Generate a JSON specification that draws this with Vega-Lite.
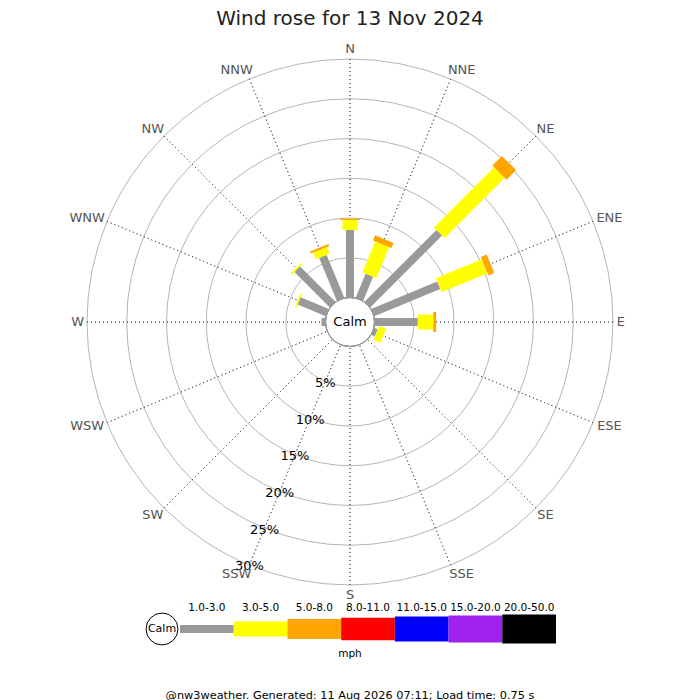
{
  "$schema": "https://vega.github.io/schema/vega-lite/v6.json",
  "padding": {"top": 9, "left": 0, "right": 0, "bottom": 0},
  "background": "white",
  "title": {"text": "Wind rose for 13 Nov 2024", "fontSize": 20, "fontWeight": "normal", "font": "DejaVu Sans", "color": "#222222", "anchor": "middle", "offset": 6},
  "bounds": "flush",
  "spacing": 0,
  "config": {"view": {"stroke": null, "fill": "white"}, "font": "DejaVu Sans"},
  "datasets": {
    "directions": [
      {"dir": "N", "angle": 0}, {"dir": "NNE", "angle": 22.5}, {"dir": "NE", "angle": 45}, {"dir": "ENE", "angle": 67.5},
      {"dir": "E", "angle": 90}, {"dir": "ESE", "angle": 112.5}, {"dir": "SE", "angle": 135}, {"dir": "SSE", "angle": 157.5},
      {"dir": "S", "angle": 180}, {"dir": "SSW", "angle": 202.5}, {"dir": "SW", "angle": 225}, {"dir": "WSW", "angle": 247.5},
      {"dir": "W", "angle": 270}, {"dir": "WNW", "angle": 292.5}, {"dir": "NW", "angle": 315}, {"dir": "NNW", "angle": 337.5}
    ],
    "rings": [
      {"pct": 5, "label": "5%"}, {"pct": 10, "label": "10%"}, {"pct": 15, "label": "15%"},
      {"pct": 20, "label": "20%"}, {"pct": 25, "label": "25%"}, {"pct": 30, "label": "30%"}
    ],
    "bars": [
      {"dir": "N", "angle": 0, "band": "1.0-3.0", "pct": 8.5},
      {"dir": "N", "angle": 0, "band": "3.0-5.0", "pct": 1.25},
      {"dir": "N", "angle": 0, "band": "5.0-8.0", "pct": 0.17},
      {"dir": "NNE", "angle": 22.5, "band": "1.0-3.0", "pct": 3.3},
      {"dir": "NNE", "angle": 22.5, "band": "3.0-5.0", "pct": 4.2},
      {"dir": "NNE", "angle": 22.5, "band": "5.0-8.0", "pct": 0.7},
      {"dir": "NE", "angle": 45, "band": "1.0-3.0", "pct": 12.8},
      {"dir": "NE", "angle": 45, "band": "3.0-5.0", "pct": 10.7},
      {"dir": "NE", "angle": 45, "band": "5.0-8.0", "pct": 1.7},
      {"dir": "ENE", "angle": 67.5, "band": "1.0-3.0", "pct": 9.0},
      {"dir": "ENE", "angle": 67.5, "band": "3.0-5.0", "pct": 6.25},
      {"dir": "ENE", "angle": 67.5, "band": "5.0-8.0", "pct": 0.8},
      {"dir": "E", "angle": 90, "band": "1.0-3.0", "pct": 5.45},
      {"dir": "E", "angle": 90, "band": "3.0-5.0", "pct": 1.95},
      {"dir": "E", "angle": 90, "band": "5.0-8.0", "pct": 0.35},
      {"dir": "ESE", "angle": 112.5, "band": "1.0-3.0", "pct": 0.5},
      {"dir": "ESE", "angle": 112.5, "band": "3.0-5.0", "pct": 0.95},
      {"dir": "W", "angle": 270, "band": "1.0-3.0", "pct": 0.5},
      {"dir": "WNW", "angle": 292.5, "band": "1.0-3.0", "pct": 3.85},
      {"dir": "WNW", "angle": 292.5, "band": "3.0-5.0", "pct": 0.2},
      {"dir": "NW", "angle": 315, "band": "1.0-3.0", "pct": 6.3},
      {"dir": "NW", "angle": 315, "band": "3.0-5.0", "pct": 0.22},
      {"dir": "NNW", "angle": 337.5, "band": "1.0-3.0", "pct": 5.85},
      {"dir": "NNW", "angle": 337.5, "band": "3.0-5.0", "pct": 0.9},
      {"dir": "NNW", "angle": 337.5, "band": "5.0-8.0", "pct": 0.28}
    ],
    "legend": [
      {"band": "1.0-3.0"}, {"band": "3.0-5.0"}, {"band": "5.0-8.0"}, {"band": "8.0-11.0"},
      {"band": "11.0-15.0"}, {"band": "15.0-20.0"}, {"band": "20.0-50.0"}
    ]
  },
  "vconcat": [
    {
      "width": 700,
      "height": 574,
      "layer": [
        {
          "data": {"name": "rings"},
          "mark": {"type": "arc", "theta": 0, "theta2": 6.2832, "filled": false, "stroke": "#b4b4b4", "strokeWidth": 1},
          "encoding": {
            "radius": {"field": "pct", "type": "quantitative", "stack": null, "scale": {"type": "linear", "domain": [0, 30], "range": [24.5, 263], "zero": false}}
          }
        },
        {
          "data": {"name": "directions"},
          "mark": {"type": "arc", "filled": false, "stroke": "#555555", "strokeWidth": 1, "strokeDash": [1, 3]},
          "encoding": {
            "theta": {"field": "angle", "type": "quantitative", "stack": null, "scale": {"domain": [0, 360], "range": [0, 6.283185307179586]}},
            "theta2": {"field": "angle"},
            "radius": {"datum": 30, "type": "quantitative", "stack": null, "scale": {"type": "linear", "domain": [0, 30], "range": [24.5, 263], "zero": false}},
            "radius2": {"datum": 0}
          }
        },
        {
          "data": {"name": "bars"},
          "transform": [
            {"stack": "pct", "groupby": ["dir"], "sort": [{"field": "band", "order": "ascending"}], "as": ["r0", "r1"]}
          ],
          "mark": {"type": "arc", "filled": false, "strokeJoin": "bevel"},
          "encoding": {
            "theta": {"field": "angle", "type": "quantitative", "stack": null, "scale": {"domain": [0, 360], "range": [0, 6.283185307179586]}},
            "theta2": {"field": "angle"},
            "radius": {"field": "r1", "type": "quantitative", "stack": null, "scale": {"type": "linear", "domain": [0, 30], "range": [24.5, 263], "zero": false}},
            "radius2": {"field": "r0"},
            "stroke": {"field": "band", "type": "nominal", "legend": null, "scale": {"domain": ["1.0-3.0", "3.0-5.0", "5.0-8.0", "8.0-11.0", "11.0-15.0", "15.0-20.0", "20.0-50.0"], "range": ["#999999", "#ffff00", "#ffa500", "#ff0000", "#0000ff", "#a020f0", "#000000"]}},
            "strokeWidth": {"field": "band", "type": "ordinal", "legend": null, "scale": {"type": "ordinal", "domain": ["1.0-3.0", "3.0-5.0", "5.0-8.0", "8.0-11.0", "11.0-15.0", "15.0-20.0", "20.0-50.0"], "range": [8, 15, 20, 22.5, 25, 27, 29]}}
          }
        },
        {
          "data": {"values": [{"calm": 0}]},
          "mark": {"type": "arc", "theta": 0, "theta2": 6.2832, "fill": "white", "stroke": "#999999", "strokeWidth": 1},
          "encoding": {
            "radius": {"field": "calm", "type": "quantitative", "stack": null, "scale": {"type": "linear", "domain": [0, 30], "range": [24.5, 263], "zero": false}}
          }
        },
        {
          "data": {"values": [{"label": "Calm"}]},
          "mark": {"type": "text", "fontSize": 13, "color": "black", "align": "center", "baseline": "middle"},
          "encoding": {"text": {"field": "label"}}
        },
        {
          "data": {"name": "rings"},
          "mark": {"type": "text", "fontSize": 13, "color": "black", "align": "center", "baseline": "middle", "dy": 1.5},
          "encoding": {
            "theta": {"datum": 202.5, "type": "quantitative", "stack": null, "scale": {"domain": [0, 360], "range": [0, 6.283185307179586]}},
            "radius": {"field": "pct", "type": "quantitative", "stack": null, "scale": {"type": "linear", "domain": [0, 30], "range": [24.5, 263], "zero": false}},
            "text": {"field": "label"}
          }
        },
        {
          "data": {"name": "directions"},
          "mark": {"type": "text", "fontSize": 13, "color": "#555555", "align": "center", "baseline": "middle",
                   "radiusOffset": 10,
                   "dx": {"expr": "(sin(datum.angle * PI / 180) > 0.01 ? 1 : sin(datum.angle * PI / 180) < -0.01 ? -1 : 0) * ((9.5 * length(datum.dir) + 3.3 * (length(datum.dir) - length(replace(datum.dir, regexp('W', 'g'), '')))) / 2 - 7)"}},
          "encoding": {
            "theta": {"field": "angle", "type": "quantitative", "stack": null, "scale": {"domain": [0, 360], "range": [0, 6.283185307179586]}},
            "radius": {"datum": 30, "type": "quantitative", "stack": null, "scale": {"type": "linear", "domain": [0, 30], "range": [24.5, 263], "zero": false}},
            "text": {"field": "dir"}
          }
        }
      ]
    },
    {
      "width": 700,
      "height": 40,
      "title": {"text": "@nw3weather. Generated: 11 Aug 2026 07:11; Load time: 0.75 s", "orient": "bottom", "anchor": "middle", "fontSize": 11.3, "fontWeight": "normal", "color": "black", "offset": 30},
      "layer": [
        {
          "data": {"name": "legend"},
          "mark": {"type": "rule"},
          "encoding": {
            "x": {"field": "band", "type": "nominal", "bandPosition": 0, "axis": null, "scale": {"type": "band", "domain": ["Calm", "1.0-3.0", "3.0-5.0", "5.0-8.0", "8.0-11.0", "11.0-15.0", "15.0-20.0", "20.0-50.0"], "range": [126.3, 556], "paddingInner": 0, "paddingOuter": 0}},
            "x2": {"field": "band", "bandPosition": 1},
            "stroke": {"field": "band", "type": "nominal", "legend": null, "scale": {"domain": ["1.0-3.0", "3.0-5.0", "5.0-8.0", "8.0-11.0", "11.0-15.0", "15.0-20.0", "20.0-50.0"], "range": ["#999999", "#ffff00", "#ffa500", "#ff0000", "#0000ff", "#a020f0", "#000000"]}},
            "strokeWidth": {"field": "band", "type": "ordinal", "legend": null, "scale": {"type": "ordinal", "domain": ["1.0-3.0", "3.0-5.0", "5.0-8.0", "8.0-11.0", "11.0-15.0", "15.0-20.0", "20.0-50.0"], "range": [8, 15, 20, 22.5, 25, 27, 29]}}
          }
        },
        {
          "data": {"name": "legend"},
          "mark": {"type": "text", "fontSize": 10.5, "color": "black", "dy": -21, "baseline": "middle"},
          "encoding": {
            "x": {"field": "band", "type": "nominal", "axis": null},
            "text": {"field": "band"}
          }
        },
        {
          "data": {"values": [{"band": "Calm"}]},
          "mark": {"type": "point", "shape": "circle", "size": 1018, "filled": true, "fill": "white", "stroke": "black", "strokeWidth": 1, "opacity": 1},
          "encoding": {
            "x": {"field": "band", "type": "nominal", "bandPosition": 0.665, "axis": null}
          }
        },
        {
          "data": {"values": [{"band": "Calm"}]},
          "mark": {"type": "text", "fontSize": 11, "color": "black", "baseline": "middle"},
          "encoding": {
            "x": {"field": "band", "type": "nominal", "bandPosition": 0.665, "axis": null},
            "text": {"field": "band"}
          }
        },
        {
          "data": {"values": [{"unit": "mph"}]},
          "mark": {"type": "text", "fontSize": 10.5, "color": "black", "dy": 25, "baseline": "middle"},
          "encoding": {"text": {"field": "unit"}}
        }
      ]
    }
  ]
}
